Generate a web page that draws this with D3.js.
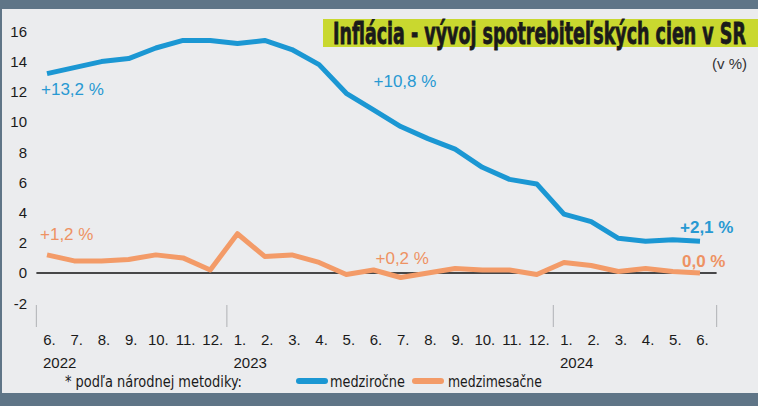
<!DOCTYPE html>
<html><head><meta charset="utf-8">
<script src="https://cdn.jsdelivr.net/npm/d3@7/dist/d3.min.js"></script>
<style>
html,body{margin:0;padding:0;background:#5f7587;}
svg{display:block;}
</style></head>
<body>
<svg id="c" width="758" height="406"></svg>
<script>
// ---- data ----
const months = ["6.","7.","8.","9.","10.","11.","12.","1.","2.","3.","4.","5.","6.","7.","8.","9.","10.","11.","12.","1.","2.","3.","4.","5.","6."];
const years = [{label:"2022", index:0},{label:"2023", index:7},{label:"2024", index:19}];
const yearBreaks = [-1, 6, 18, 24];
const medzirocne = [13.2,13.6,14.0,14.2,14.9,15.4,15.4,15.2,15.4,14.8,13.8,11.9,10.8,9.7,8.9,8.2,7.0,6.2,5.9,3.9,3.4,2.3,2.1,2.2,2.1];
const medzimesacne = [1.2,0.8,0.8,0.9,1.2,1.0,0.2,2.6,1.1,1.2,0.7,-0.1,0.2,-0.3,0.0,0.3,0.2,0.2,-0.1,0.7,0.5,0.1,0.3,0.1,0.0];
const yTicks = [-2,0,2,4,6,8,10,12,14,16];
const title = "Inflácia - vývoj spotrebiteľských cien v SR";
const unit = "(v %)";
const footnote = "* podľa národnej metodiky:";
const seriesNames = ["medziročne","medzimesačne"];

const BLUE = "#1b97d3", ORANGE = "#f39b68";
const BLUE_T = "#2899d2", ORANGE_T = "#ee9263";

const svg = d3.select("#c");
svg.append("rect").attr("x",0).attr("y",0).attr("width",758).attr("height",406).attr("fill","#5f7587");
svg.append("rect").attr("x",2).attr("y",9).attr("width",756).attr("height",384).attr("fill","#ebecee");

const x = d3.scalePoint().domain(d3.range(months.length)).range([47,700]);
const step = x.step();
const y = d3.scaleLinear().domain([-2,16]).range([303.2,31.4]);

function fitText(sel, x0, y0, width){
  const w = sel.node().getComputedTextLength();
  sel.attr("transform", `translate(${x0},${y0}) scale(${width/w},1)`);
}

// title
svg.append("rect").attr("x",323).attr("y",19).attr("width",435).attr("height",28).attr("fill","#c9d82f");
const t = svg.append("text").attr("x",0).attr("y",0)
  .attr("font-family","'Liberation Sans Narrow','DejaVu Sans Condensed',Roboto,sans-serif")
  .attr("font-weight","bold").attr("font-size",30).attr("fill","#1a1a1a")
  .attr("stroke","#1a1a1a").attr("stroke-width",0.8)
  .text(title);
fitText(t, 333, 44, 413);
svg.append("text").attr("x",747).attr("y",69).attr("text-anchor","end")
  .attr("font-family","'Liberation Sans',Arial,sans-serif").attr("font-size",15).attr("fill","#333")
  .text(unit);

// y axis
const yAxis = svg.append("g").attr("transform","translate(27,0)")
  .call(d3.axisLeft(y).tickValues(yTicks).tickSize(0).tickPadding(0).tickFormat(d=>String(d)));
yAxis.select(".domain").remove();
yAxis.selectAll("text").attr("font-family","'Liberation Sans',Arial,sans-serif").attr("font-size",15).attr("fill","#1a1a1a");

// zero line
const sepX = i => x(Math.max(0,Math.min(24,i))) + (i<0 ? -step*0.5 : step*0.5) + 3;
svg.append("line").attr("x1",sepX(-1)).attr("x2",sepX(24)).attr("y1",y(0)).attr("y2",y(0))
  .attr("stroke","#111").attr("stroke-width",1.4);

// year separators
svg.selectAll("line.sep").data(yearBreaks).join("line").attr("class","sep")
  .attr("x1",d=>sepX(d)).attr("x2",d=>sepX(d)).attr("y1",305).attr("y2",327)
  .attr("stroke","#b9bbbe").attr("stroke-width",1.2);

// x axis
const xAxis = svg.append("g").attr("transform","translate(0,334)")
  .call(d3.axisBottom(x).tickSize(0).tickPadding(0).tickFormat(i=>months[i]));
xAxis.select(".domain").remove();
xAxis.selectAll("text").attr("font-family","'Liberation Sans',Arial,sans-serif").attr("font-size",15).attr("fill","#1a1a1a").attr("dy","0.71em").attr("dx",2);

svg.selectAll("text.year").data(years).join("text").attr("class","year")
  .attr("x",d=>x(d.index)-4).attr("y",368)
  .attr("font-family","'Liberation Sans',Arial,sans-serif").attr("font-size",15).attr("fill","#1a1a1a")
  .text(d=>d.label);

// lines
const line = d3.line().x((d,i)=>x(i)).y(d=>y(d));
svg.append("path").datum(medzimesacne).attr("d",line).attr("fill","none")
  .attr("stroke",ORANGE).attr("stroke-width",5).attr("stroke-linejoin","round");
svg.append("path").datum(medzirocne).attr("d",line).attr("fill","none")
  .attr("stroke",BLUE).attr("stroke-width",5).attr("stroke-linejoin","round");

// annotations
const fmt = v => (v>0?"+":"") + d3.format(".1f")(v).replace(".",",") + " %";
const ann = [
  {s:medzirocne, i:0, dx:-6, y:95, col:BLUE_T, bold:false},
  {s:medzirocne, i:12, dx:0, y:87, col:BLUE_T, bold:false},
  {s:medzirocne, i:24, dx:-20, y:233, col:BLUE_T, bold:true},
  {s:medzimesacne, i:0, dx:-7, y:240, col:ORANGE_T, bold:false},
  {s:medzimesacne, i:12, dx:2, y:264, col:ORANGE_T, bold:false},
  {s:medzimesacne, i:24, dx:-18, y:267, col:ORANGE_T, bold:true},
];
svg.selectAll("text.ann").data(ann).join("text").attr("class","ann")
  .attr("x",d=>x(d.i)+d.dx).attr("y",d=>d.y)
  .attr("font-family","'Liberation Sans',Arial,sans-serif").attr("font-size",17)
  .attr("font-weight",d=>d.bold?"bold":"normal").attr("fill",d=>d.col)
  .text(d=>fmt(d.s[d.i]));

// legend
const LF = "'Liberation Sans Narrow','DejaVu Sans Condensed',Roboto,sans-serif";
const fn = svg.append("text").attr("font-family",LF).attr("font-size",16).attr("fill","#1a1a1a").text(footnote);
fitText(fn, 65, 387, 177);
const leg = [{name:seriesNames[0], col:BLUE, x0:299, tx:330, w:75},{name:seriesNames[1], col:ORANGE, x0:415, tx:448, w:94}];
leg.forEach(l=>{
  svg.append("line").attr("x1",l.x0).attr("x2",l.x0+26).attr("y1",381).attr("y2",381)
    .attr("stroke",l.col).attr("stroke-width",6).attr("stroke-linecap","round");
  const lt = svg.append("text").attr("font-family",LF).attr("font-size",16).attr("fill","#1a1a1a").text(l.name);
  fitText(lt, l.tx, 387, l.w);
});
</script>
</body></html>
